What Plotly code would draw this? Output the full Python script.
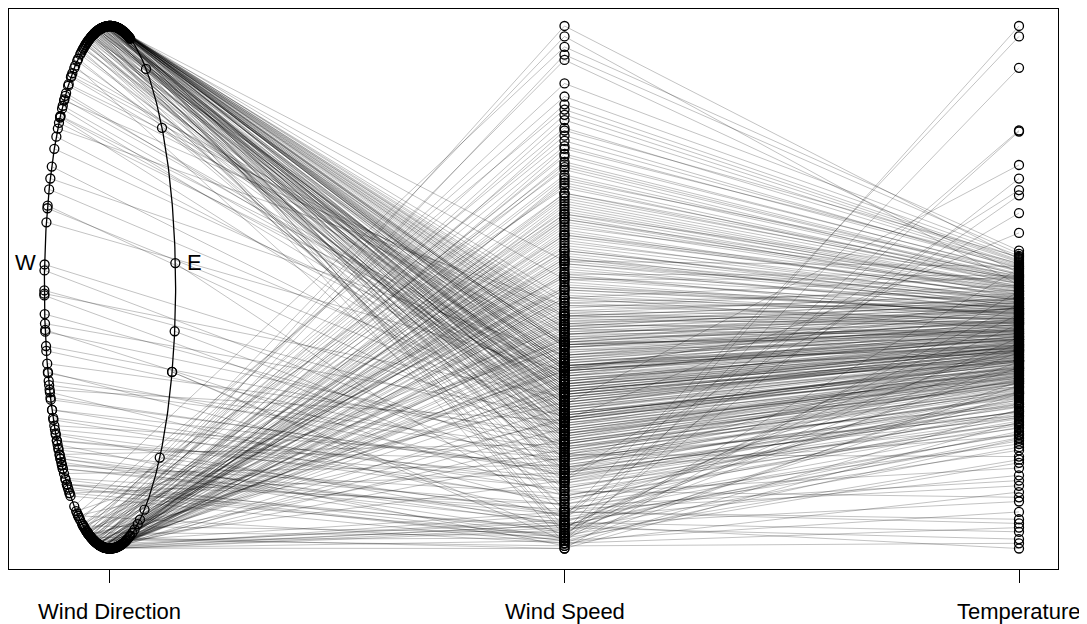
import numpy as np
import plotly.graph_objects as go

# ---------------- data ----------------
# Northerly winds
n_dir = [350, 355, 2, 8, 12, 358, 345, 340, 5, 15, 0, 352, 348, 3, 10, 357, 338, 6, 18, 354,
         1, 349, 343, 7, 13, 359, 336, 4, 11, 351, 346, 9, 16, 356, 341, 2, 353, 330, 14, 347,
         0, 6, 344, 358, 12, 334, 350, 5, 17, 355, 339, 8, 352, 1, 342, 10, 357, 348, 3, 15,
         333, 354, 7, 345, 11, 359, 337, 4, 349, 13, 356, 343, 9, 351, 2, 328, 346, 6, 353, 16,
         340, 0, 358, 12, 347, 5, 355, 335, 8, 350, 3, 344, 10, 357, 14]
n_speed = [6.5, 5.8, 7.2, 4.9, 8.1, 6.0, 5.2, 4.4, 7.8, 6.9, 5.5, 3.8, 6.3, 8.6, 7.0, 4.7, 5.9, 9.2, 6.6, 3.2,
           7.4, 5.1, 4.2, 8.9, 6.1, 2.6, 5.6, 7.7, 6.8, 4.5, 3.5, 9.6, 5.3, 6.4, 1.9, 7.1, 4.0, 5.0, 8.3, 6.2,
           5.7, 7.5, 3.0, 6.7, 8.0, 4.6, 5.4, 7.9, 10.3, 6.0, 2.2, 7.3, 4.8, 6.5, 3.7, 8.5, 5.9, 4.3, 7.6, 9.0,
           5.1, 6.3, 8.2, 4.1, 7.0, 5.5, 2.9, 6.9, 4.9, 8.7, 6.1, 3.4, 7.8, 5.7, 6.6, 1.5, 4.4, 7.2, 5.3, 9.4,
           3.9, 6.8, 5.0, 8.4, 4.7, 7.4, 6.2, 2.5, 7.7, 5.8, 6.4, 3.6, 8.8, 5.2, 11.0]
n_temp = [9.5, 8.2, 11.0, 7.4, 12.3, 9.0, 6.8, 5.5, 10.8, 13.1, 8.7, 4.9, 9.8, 14.0, 10.2, 7.0, 8.5, 15.2, 11.5, 3.8,
          12.0, 7.9, 6.1, 13.8, 9.3, 2.7, 8.0, 11.7, 10.6, 6.4, 4.4, 16.0, 7.6, 9.9, 1.8, 10.9, 5.8, 7.2, 12.8, 9.1,
          8.4, 11.3, 3.5, 10.0, 12.6, 6.9, 8.1, 11.9, 15.8, 9.4, 2.0, 10.5, 7.1, 9.6, 5.2, 13.5, 8.8, 6.3, 11.1, 14.4,
          7.8, 9.2, 12.5, 5.9, 10.4, 8.3, 3.1, 10.7, 7.5, 13.3, 9.0, 4.6, 11.6, 8.6, 10.1, 0.9, 6.6, 11.2, 8.0, 14.7,
          5.4, 10.3, 7.7, 12.9, 6.7, 11.4, 9.7, 2.4, 11.8, 8.9, 9.5, 4.8, 13.6, 7.3, 17.0]

n2_dir = [352, 357, 4, 9, 343, 0, 348, 13, 6, 339, 355, 1, 346, 11, 359, 350, 3, 16, 344, 7,
          356, 338, 10, 353, 2, 347, 14, 358, 341, 5, 351, 8, 345, 17, 354, 0, 349, 12, 336, 4,
          357, 342, 9, 352, 6, 331, 15, 348, 1, 359]
n2_speed = [5.6, 4.1, 6.9, 3.3, 7.5, 5.0, 2.8, 8.2, 6.1, 4.6, 7.0, 3.9, 5.3, 9.1, 4.4, 6.6, 2.3, 7.8, 5.8, 3.6,
            6.3, 4.9, 8.6, 5.1, 7.3, 3.1, 6.0, 4.3, 5.5, 7.7, 2.0, 6.8, 4.0, 8.9, 5.7, 3.4, 6.2, 7.1, 4.8, 5.9,
            2.7, 6.4, 4.2, 7.9, 5.2, 3.7, 8.4, 6.7, 4.5, 5.4]
n2_temp = [8.6, 6.0, 10.1, 4.7, 11.9, 7.7, 3.9, 12.7, 9.2, 6.6, 10.6, 5.1, 8.3, 14.2, 6.3, 9.7, 2.9, 12.2, 8.9, 5.0,
           9.4, 7.3, 13.0, 7.9, 11.0, 4.2, 9.0, 6.5, 8.1, 11.4, 3.2, 10.0, 5.7, 13.9, 8.8, 4.5, 9.3, 10.8, 7.0, 8.7,
           3.6, 9.8, 6.2, 12.1, 7.6, 5.3, 13.2, 10.3, 6.8, 8.0]

# Southerly winds
s_dir = [180, 185, 192, 175, 198, 170, 188, 203, 178, 195, 183, 166, 200, 190, 173, 207, 186, 181, 196, 162,
         184, 193, 177, 201, 189, 171, 205, 182, 197, 168, 187, 210, 179, 194, 174, 199, 191, 158, 186, 202,
         176, 189, 195, 183, 172, 204, 188, 180, 213, 193, 169, 185, 198, 177, 190, 164, 201, 187, 182, 196,
         174, 208, 191, 179, 199, 184, 171, 194, 188, 160, 203, 181, 192, 176, 197, 186, 167, 200, 183, 190]
s_speed = [12.5, 10.8, 14.2, 9.6, 15.8, 8.4, 13.1, 11.5, 7.2, 16.4, 10.1, 6.3, 12.9, 14.8, 9.0, 17.3, 11.8, 5.4, 13.6, 8.1,
           10.5, 15.1, 12.2, 9.9, 18.9, 7.6, 14.5, 11.2, 13.9, 4.6, 10.7, 16.8, 8.8, 12.6, 9.3, 15.4, 11.0, 6.9, 13.3, 17.8,
           10.2, 14.0, 12.0, 8.6, 11.6, 16.1, 9.7, 13.0, 19.2, 10.9, 7.9, 12.4, 15.0, 9.4, 11.3, 5.9, 14.7, 10.4, 12.8, 16.6,
           8.2, 13.8, 11.1, 9.8, 17.0, 12.1, 7.0, 14.3, 10.6, 3.8, 15.6, 11.4, 13.4, 8.9, 18.7, 12.7, 6.6, 19.6, 10.0, 20.0]
s_temp = [14.5, 12.8, 15.9, 11.0, 16.8, 10.3, 14.9, 13.2, 9.1, 17.2, 12.4, 8.0, 15.0, 16.3, 11.6, 17.8, 13.7, 7.2, 15.5, 10.8,
          12.1, 16.5, 14.0, 12.6, 18.2, 9.8, 15.7, 13.0, 15.3, 6.5, 12.9, 17.5, 11.3, 14.6, 11.9, 16.9, 13.5, 8.7, 15.1, 18.0,
          12.3, 15.6, 14.2, 10.6, 13.9, 17.1, 12.0, 14.8, 18.5, 13.3, 10.0, 14.4, 16.6, 11.8, 13.6, 8.4, 16.2, 12.7, 14.7, 17.4,
          10.9, 15.8, 13.1, 12.2, 17.6, 14.1, 9.5, 16.0, 13.4, 5.8, 17.0, 13.8, 15.4, 11.5, 16.4, 14.3, 9.2, 15.2, 12.5, 17.7]

s2_dir = [187, 179, 194, 183, 172, 199, 190, 176, 205, 185, 168, 196, 181, 192, 174, 201, 188, 163, 197, 184,
          178, 209, 191, 186, 170, 195, 182, 200, 177, 189, 193, 166, 198, 180, 204, 186, 173, 191, 211, 184]
s2_speed = [8.7, 11.9, 6.2, 13.6, 9.5, 4.9, 12.3, 7.8, 10.4, 15.3, 3.5, 9.1, 11.7, 6.8, 14.1, 8.0, 10.9, 2.6, 12.8, 7.4,
            13.2, 5.6, 9.9, 16.0, 8.3, 11.4, 4.2, 10.0, 12.6, 7.1, 14.6, 9.6, 6.0, 11.1, 8.5, 13.5, 5.0, 10.3, 7.7, 12.0]
s2_temp = [11.7, 14.6, 9.3, 16.1, 12.5, 7.9, 15.4, 10.9, 13.6, 17.3, 6.1, 12.0, 14.3, 10.0, 16.7, 11.2, 13.9, 4.8, 15.9, 10.4,
           15.0, 8.9, 12.8, 17.9, 11.4, 14.0, 7.4, 13.1, 15.2, 10.2, 16.2, 12.6, 9.0, 13.8, 11.6, 15.7, 8.2, 13.0, 10.7, 14.9]

# Westerly winds
w_dir = [320.4, 317.1, 315.6, 313.1, 311.0, 310.5, 310.8, 307.4, 305.2, 297.5, 294.6, 288.2, 287.6, 284.4, 273.7,
         269.3, 268.2, 268.6, 264.1, 260.6, 260.2, 255.9, 251.1, 250.8, 246.9, 246.3, 244.5, 242.0, 239.5, 238.0,
         235.6, 234.1, 231.5, 230.2, 229.0, 227.2, 226.0, 224.5, 222.5, 221.0, 219.2, 218.0, 217.0, 323.5, 325.0]
w_speed = [7.8, 6.5, 8.9, 5.2, 7.0, 4.3, 6.1, 9.3, 5.6, 4.8, 7.4, 3.9, 5.0, 6.8, 3.1,
           4.5, 2.4, 5.8, 3.6, 2.0, 4.1, 3.3, 1.6, 2.8, 4.9, 1.2, 3.0, 2.2, 1.8, 3.5,
           0.9, 2.6, 1.4, 4.0, 0.6, 2.1, 1.0, 3.2, 0.4, 1.7, 0.8, 2.9, 0.2, 6.9, 8.2]
w_temp = [10.5, 8.9, 12.0, 6.7, 9.4, 7.2, 7.8, 13.2, 8.5, 5.9, 11.1, 3.6, 6.3, 9.9, 2.5,
          7.0, 1.5, 8.3, -1.2, 4.4, 5.5, 6.2, -3.5, 1.9, 20.2, 39.0, 0.8, -5.1, 5.0, 2.7,
          -10.0, 22.1, -7.2, 6.0, 40.0, -2.3, -8.4, 4.0, 36.0, 0.0, -9.1, 3.1, -4.6, 11.8, 13.0]

m2_dir = [240, 226, 318, 232, 253, 309, 221, 245, 327, 236, 262, 229, 302, 218, 249, 324, 234, 275, 223, 314,
          242, 230, 257, 321, 227, 237, 292, 220, 248, 316]
m2_speed = [2.5, 1.3, 5.9, 3.4, 4.4, 6.7, 0.7, 2.9, 7.3, 1.9, 5.1, 1.1, 6.3, 0.5, 3.8, 7.9, 2.3, 4.7, 1.5, 6.0,
            3.1, 0.9, 4.0, 8.5, 1.7, 2.7, 5.4, 0.3, 3.6, 6.4]
m2_temp = [4.2, 1.0, 9.7, 3.0, 7.5, 10.9, -0.3, 5.4, 11.6, 2.2, 8.0, 0.3, 10.3, -1.5, 6.5, 12.4, 3.8, 8.6, 1.6, 9.1,
           5.8, 0.6, 6.9, 13.5, 2.6, 4.9, 9.5, 16.8, 7.2, 10.6]

# Easterly winds
e_dir = [17.6, 33.3, 52.4, 84.7, 99.7, 108.9, 108.9, 130.7, 148.3, 152.8, 155.0]
e_speed = [7.0, 5.5, 3.0, 1.1, 2.7, 0.3, 0.5, 1.3, 6.8, 10.5, 8.0]
e_temp = [10.0, 26.7, 9.0, 30.0, 24.3, 29.9, 25.4, 23.8, 14.0, 16.1, 13.0]

# Calm spells
c_dir = [183, 176, 200, 5, 350, 190, 228, 172, 195, 12, 186, 209, 345, 179, 197, 221, 188, 2, 165, 193, 233, 181, 356, 204, 174]
c_speed = [0.0, 0.3, 0.5, 0.8, 0.2, 1.0, 0.4, 1.3, 0.1, 0.6, 0.9, 0.2, 1.5, 0.7, 0.0, 0.3, 1.1, 0.5, 0.4, 1.4, 0.1, 0.8, 1.2, 0.6, 0.9]
c_temp = [2.1, -6.5, 4.8, 11.5, -8.0, 7.3, -1.8, 9.6, -9.5, 13.4, 1.2, 6.0, -4.0, 8.8, 14.6, 0.5, -3.0, 10.2, 5.6, -7.6, 3.3, 12.4, -0.6, 7.9, -5.5]

axis_labels = ["Wind Direction", "Wind Speed", "Temperature"]

# ---------------- build ----------------
wind_dir = np.array(n_dir + n2_dir + s_dir + s2_dir + w_dir + m2_dir + e_dir + c_dir, dtype=float)
wind_speed = np.array(n_speed + n2_speed + s_speed + s2_speed + w_speed + m2_speed + e_speed + c_speed, dtype=float)
temperature = np.array(n_temp + n2_temp + s_temp + s2_temp + w_temp + m2_temp + e_temp + c_temp, dtype=float)


def scale01(v):
    return (v - v.min()) / (v.max() - v.min())


RX = 0.1444  # horizontal half-width of the direction ellipse (x units)
th = np.radians(wind_dir)
dx = 1 + RX * np.sin(th)
dy = 0.5 + 0.5 * np.cos(th)
sy = scale01(wind_speed)
ty = scale01(temperature)

fig = go.Figure()
for i in range(len(wind_dir)):
    fig.add_trace(go.Scatter(x=[dx[i], 2, 3], y=[dy[i], sy[i], ty[i]], mode="lines",
                             line=dict(color="rgba(0,0,0,0.24)", width=1.0),
                             hoverinfo="skip", showlegend=False))

t = np.linspace(0, 2 * np.pi, 400)
fig.add_trace(go.Scatter(x=1 + RX * np.sin(t), y=0.5 + 0.5 * np.cos(t), mode="lines",
                         line=dict(color="black", width=1.3), hoverinfo="skip", showlegend=False))

mk = dict(symbol="circle-open", size=9, color="black", line=dict(width=1.3, color="black"))
fig.add_trace(go.Scatter(x=dx, y=dy, mode="markers", marker=mk, showlegend=False))
fig.add_trace(go.Scatter(x=np.full(len(sy), 2.0), y=sy, mode="markers", marker=mk, showlegend=False))
fig.add_trace(go.Scatter(x=np.full(len(ty), 3.0), y=ty, mode="markers", marker=mk, showlegend=False))

font = dict(family="Liberation Sans, Arial, sans-serif", size=22, color="black")
ann = [dict(x=0.815, y=0.547, xref="x", yref="y", text="W", showarrow=False, font=font),
       dict(x=1.187, y=0.547, xref="x", yref="y", text="E", showarrow=False, font=font)]
for k, lab in enumerate(axis_labels):
    ann.append(dict(x=k + 1, y=-0.075, xref="x", yref="paper", text=lab, showarrow=False,
                    font=font, yanchor="middle"))

# the page body has an 8px default margin, so the figure is sized to the visible area
fig.update_layout(
    width=1079, height=616,
    margin=dict(l=1, r=29, t=1, b=55),
    paper_bgcolor="white", plot_bgcolor="white",
    annotations=ann,
    xaxis=dict(range=[0.7778, 3.0858], showgrid=False, zeroline=False,
               tickvals=[1, 2, 3], ticks="outside", ticklen=13, tickcolor="black", tickwidth=1,
               showticklabels=False, showline=True, mirror=True, linecolor="black", linewidth=1),
    yaxis=dict(range=[-0.0392, 1.0325], showgrid=False, zeroline=False, showticklabels=False,
               showline=True, mirror=True, linecolor="black", linewidth=1),
)

fig.write_html("out.html")
